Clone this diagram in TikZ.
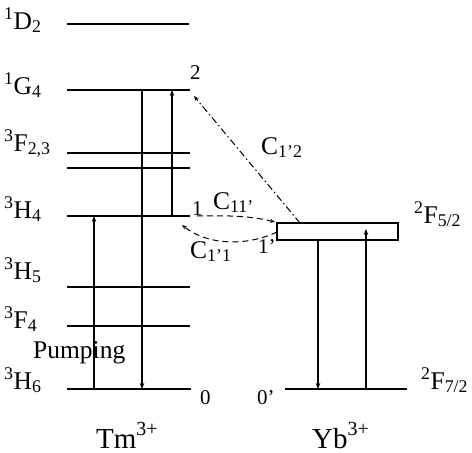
\documentclass[tikz,border=0pt]{standalone}
\usepackage{fontspec}
\setmainfont{Liberation Serif}
\usetikzlibrary{arrows.meta}
\newcommand{\ionsup}[1]{\raisebox{0.42em}{\fontsize{20}{22}\selectfont #1}}
\begin{document}
\begin{tikzpicture}[x=1pt,y=-1pt,
  lvl/.style={line width=1.7pt},
  arr/.style={line width=1.3pt,-{Stealth[length=6pt,width=4.5pt]}},
  lab/.style={font=\fontsize{25.5}{28}\selectfont,inner sep=0pt,anchor=base west},
  num/.style={font=\fontsize{21}{23}\selectfont,inner sep=0pt,anchor=base west},
  ion/.style={font=\fontsize{29}{32}\selectfont,inner sep=0pt,anchor=base west},
  trans/.style={line width=1pt,-{Stealth[length=5pt,width=4pt]}}]
\useasboundingbox (0,0) rectangle (472,453);
% Tm levels
\coordinate (D2a) at (67,24);  \coordinate (D2b) at (189,24);
\coordinate (G4a) at (67,90);  \coordinate (G4b) at (190,90);
\coordinate (F3a) at (67,153); \coordinate (F3b) at (190,153);
\coordinate (F2a) at (67,168); \coordinate (F2b) at (190,168);
\coordinate (H4a) at (67,216); \coordinate (H4b) at (190,216);
\coordinate (H5a) at (67,287); \coordinate (H5b) at (190,287);
\coordinate (F4a) at (67,326); \coordinate (F4b) at (190,326);
\coordinate (H6a) at (67,389); \coordinate (H6b) at (191,389);
\foreach \l in {D2,G4,F3,F2,H4,H5,F4,H6} \draw[lvl] (\l a) -- (\l b);
% Yb levels
\node[draw,line width=1.7pt,minimum width=121pt,minimum height=17pt,inner sep=0pt] (box) at (337.5,231.5) {};
\coordinate (Ga) at (285,389); \coordinate (Gb) at (407,389);
\draw[lvl] (Ga) -- (Gb);
% level labels
\node[lab] (lD2) at (4,29) {\textsuperscript{1}D\textsubscript{2}};
\node[lab] (lG4) at (4,94) {\textsuperscript{1}G\textsubscript{4}};
\node[lab] (lF23) at (4,151) {\textsuperscript{3}F\textsubscript{2,3}};
\node[lab] (lH4) at (4,218) {\textsuperscript{3}H\textsubscript{4}};
\node[lab] (lH5) at (4,279) {\textsuperscript{3}H\textsubscript{5}};
\node[lab] (lF4) at (4,328) {\textsuperscript{3}F\textsubscript{4}};
\node[lab] (lH6) at (4,389) {\textsuperscript{3}H\textsubscript{6}};
\node[lab] (pump) at (33,358) {Pumping};
\node[lab] (lF52) at (414,223) {\textsuperscript{2}F\textsubscript{5/2}};
\node[lab] (lF72) at (421,389) {\textsuperscript{2}F\textsubscript{7/2}};
% numbers
\node[num] (n2) at (190,79) {2};
\node[num] (n1) at (192,215) {1};
\node[num] (n0) at (200,404) {0};
\node[num] (n0p) at (257,404) {0'};
\node[num] (n1p) at (258,253) {1'};
% ions
\node[ion] (tm) at (96,448) {Tm\ionsup{3+}};
\node[ion] (yb) at (312,448) {Yb\ionsup{3+}};
% transfer labels
\node[lab] (c12) at (261,154) {C\textsubscript{1'2}};
\node[lab] (c11p) at (213,209) {C\textsubscript{11'}};
\node[lab] (c1p1) at (190,258) {C\textsubscript{1'1}};
% Tm arrows
\coordinate (pb) at (94,389); \coordinate (pt) at (94,216);
\draw[arr] (pb) -- (pt);
\coordinate (db) at (142,389); \coordinate (dt) at (142,90);
\draw[arr] (dt) -- (db);
\coordinate (ub) at (172,216); \coordinate (ut) at (172,90);
\draw[arr] (ub) -- (ut);
% Yb arrows
\coordinate (yd) at (318,389);
\draw[arr] (box.south -| yd) -- (yd);
\coordinate (yu) at (366,389); \coordinate (yut) at (366,229);
\draw[arr] (yu) -- (yut);
% energy transfers
\coordinate (c2s) at (300,223); \coordinate (c2e) at (194,96);
\draw[trans,dash pattern=on 7pt off 3pt on 1.5pt off 3pt] (c2s) -- (c2e);
\coordinate (c1s) at (197,216); \coordinate (c1e) at (275,222);
\draw[trans,dash pattern=on 6pt off 4pt] (c1s) .. controls (235,215) and (255,217) .. (c1e);
\coordinate (c3s) at (277,232); \coordinate (c3e) at (182,225);
\draw[trans,dash pattern=on 6pt off 4pt] (c3s) .. controls (250,245) and (210,247) .. (c3e);
\end{tikzpicture}
\end{document}
